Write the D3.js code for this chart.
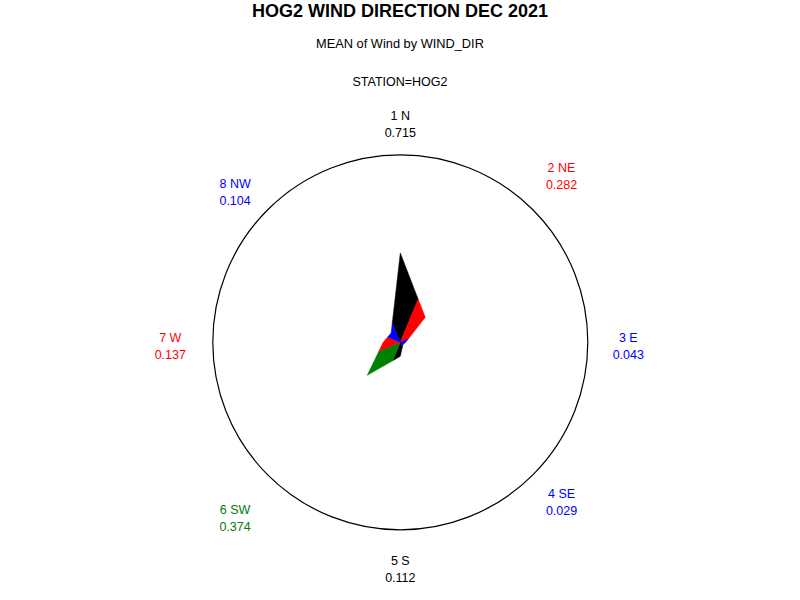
<!DOCTYPE html>
<html><head><meta charset="utf-8">
<script src="https://cdn.jsdelivr.net/npm/d3@7"></script>
<style>html,body{margin:0;padding:0;background:#fff}</style>
</head><body>
<svg id="chart" width="800" height="600"></svg>
<script>
const directions = ["1 N","2 NE","3 E","4 SE","5 S","6 SW","7 W","8 NW"];
const meanWind = [0.715, 0.282, 0.043, 0.029, 0.112, 0.374, 0.137, 0.104];
const sliceColors = ["#000000","#FF0000","#0000FF","#0000FF","#000000","#008000","#FF0000","#0000FF"];
const title = "HOG2 WIND DIRECTION DEC 2021";
const subtitle1 = "MEAN of Wind by WIND_DIR";
const subtitle2 = "STATION=HOG2";

const svg = d3.select("#chart");
const W = 800, H = 600;
svg.append("rect").attr("width", W).attr("height", H).attr("fill", "#fff");
const font = "'Liberation Sans', Arial, sans-serif";

svg.append("text").attr("x", 400).attr("y", 17).attr("text-anchor","middle")
  .attr("font-family", font).attr("font-weight","bold").attr("font-size", 18).text(title);
svg.append("text").attr("x", 400).attr("y", 48).attr("text-anchor","middle")
  .attr("font-family", font).attr("font-size", 12.8).text(subtitle1);
svg.append("text").attr("x", 400).attr("y", 86).attr("text-anchor","middle")
  .attr("font-family", font).attr("font-size", 12.5).text(subtitle2);

const cx = 400.3, cy = 342.3, R = 187.5;
const rScale = d3.scaleLinear().domain([0, 1.5]).range([0, R]);
const angle = d3.scalePoint().domain(directions).range([0, 2*Math.PI*7/8]);

const g = svg.append("g").attr("transform", `translate(${cx},${cy})`);
g.append("circle").attr("r", R).attr("fill","none").attr("stroke","#000").attr("stroke-width",1.2);

const n = directions.length;
const tip = i => {
  const a = angle(directions[(i+n)%n]), r = rScale(meanWind[(i+n)%n]);
  return [r*Math.sin(a), -r*Math.cos(a)];
};
function bis(p, q, b) {
  const u = [Math.sin(b), -Math.cos(b)];
  const d = [q[0]-p[0], q[1]-p[1]];
  const det = u[0]*(-d[1]) - u[1]*(-d[0]);
  const s = (p[0]*(-d[1]) - p[1]*(-d[0])) / det;
  return [s*u[0], s*u[1]];
}
const step = 2*Math.PI/n;
const slices = directions.map((d, i) => {
  const a = angle(d);
  const t = tip(i);
  const left = bis(tip(i-1), t, a - step/2);
  const right = bis(t, tip(i+1), a + step/2);
  return {pts: [[0,0], left, t, right], color: sliceColors[i]};
});
g.selectAll("path.slice").data(slices).join("path").attr("class","slice")
  .attr("d", s => d3.line()(s.pts) + "Z")
  .attr("fill", s => s.color).attr("stroke", s => s.color).attr("stroke-width", 0.5);

// labels
const labelR = 228;
directions.forEach((d, i) => {
  const a = angle(d);
  const sx = Math.sin(a), cyv = -Math.cos(a);
  let x = labelR*sx, y = labelR*cyv;
  const diag = Math.abs(sx) > 0.1 && Math.abs(cyv) > 0.1;
  if (diag) {
    y += (sx > 0 ? -6 : 10);
    if (cyv > 0) y += 3;
    if (sx < 0) x -= 4;
  }
  if (Math.abs(sx) > 0.9) y += 3;
  if (cyv < -0.9) y += 9;
  if (cyv > 0.9) y -= 2;
  if (sx < -0.9) x -= 2;
  const t = g.append("text").attr("text-anchor","middle").attr("font-family", font)
    .attr("font-size", 12.5).attr("fill", sliceColors[i]);
  t.append("tspan").attr("x", x).attr("y", y - 3).text(d);
  t.append("tspan").attr("x", x).attr("y", y + 14).text(meanWind[i].toFixed(3));
});
</script>
</body></html>
